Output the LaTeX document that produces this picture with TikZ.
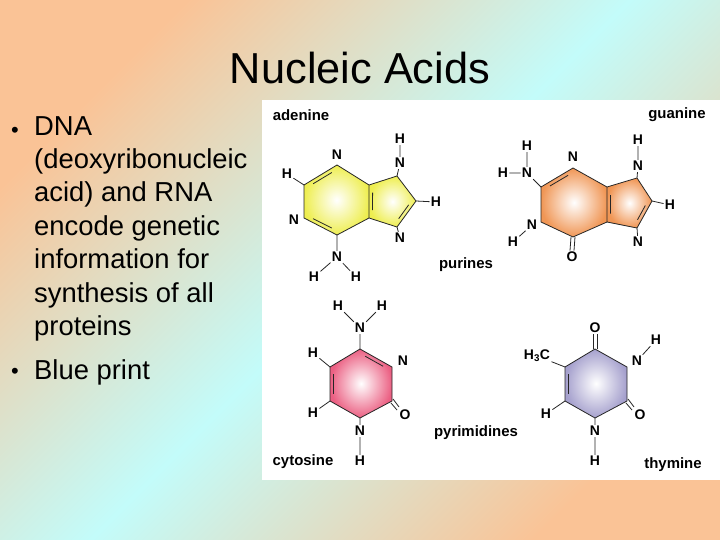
\documentclass[tikz,border=0pt]{standalone}
\usepackage{fontspec}
\setmainfont{Liberation Sans}
\usetikzlibrary{calc}
\definecolor{peach}{RGB}{250,195,150}
\definecolor{cyanbg}{RGB}{195,252,250}
\definecolor{adcol}{RGB}{238,238,80}
\definecolor{gucol}{RGB}{240,150,85}
\definecolor{cycol}{RGB}{235,95,130}
\definecolor{thcol}{RGB}{165,160,205}
\tikzset{
  atom/.style={font=\bfseries\fontsize{14}{14}\selectfont, inner sep=1.2pt},
  mol/.style={font=\bfseries\fontsize{15}{15}\selectfont, inner sep=0pt},
  bond/.style={line width=0.8pt, black!85},
  bullettext/.style={font=\fontsize{27.5}{33.6}\selectfont, anchor=north west, align=left, inner sep=0pt}
}
\newcommand{\dbl}[3]{\draw[bond] ($($(#1)!0.18!(#2)$)!4bp!(#3)$) -- ($($(#2)!0.18!(#1)$)!4bp!(#3)$);}
\begin{document}
\begin{tikzpicture}[x=1bp,y=-1bp]
\useasboundingbox (0,0) rectangle (720,540);
\shade[left color=peach, right color=peach, middle color=cyanbg, shading angle=45] (0,0) rectangle (720,540);
\fill[white] (262,100) rectangle (720,480);
\node[font=\fontsize{43.5}{44}\selectfont] (title) at (360,68) {Nucleic Acids};
\node[font=\fontsize{22}{24}\selectfont] (b1) at (15,132) {•};
\node[bullettext] (t1) at (34,116) {DNA\\(deoxyribonucleic\\acid) and RNA\\encode genetic\\information for\\synthesis of all\\proteins};
\node[font=\fontsize{22}{24}\selectfont] (b2) at (15,373) {•};
\node[bullettext, anchor=west] (t2) at (34,372) {Blue print};

% ---------- adenine
\coordinate (a1) at (337,165); \coordinate (a2) at (304,185); \coordinate (a3) at (304,218);
\coordinate (a4) at (337,235); \coordinate (a5) at (369,218); \coordinate (a6) at (369,185);
\coordinate (a7) at (397,176); \coordinate (a8) at (416,201); \coordinate (a9) at (397,227);
\coordinate (ac) at (337,201); \coordinate (ac5) at (390,201);
\shade[inner color=white, outer color=adcol] (a1)--(a2)--(a3)--(a4)--(a5)--(a6)--cycle;
\shade[inner color=white, outer color=adcol] (a6)--(a7)--(a8)--(a9)--(a5)--cycle;
\draw[bond] (a1)--(a2)--(a3)--(a4)--(a5)--(a6)--cycle (a6)--(a7)--(a8)--(a9)--(a5);
\dbl{a1}{a2}{ac} \dbl{a3}{a4}{ac} \dbl{a6}{a5}{ac5} \dbl{a8}{a9}{ac5}
\node[atom, fill=white] (aN1) at (337,155) {N};
\node[atom] (aH2) at (287,174) {H};
\node[atom, fill=white] (aN3) at (294,220) {N};
\node[atom] (aN7) at (400,163) {N};
\node[atom] (aH7) at (400,139) {H};
\node[atom] (aH8) at (436,202) {H};
\node[atom] (aN9) at (400,238) {N};
\node[atom] (aN6) at (337,257) {N};
\node[atom] (aH6a) at (314,277) {H};
\node[atom] (aH6b) at (356,277) {H};
\draw[bond] (a2)--(aH2) (a7)--(aN7) (aN7)--(aH7) (a8)--(aH8) (a9)--(aN9) (a4)--(aN6) (aN6)--(aH6a) (aN6)--(aH6b);
\node[mol] (adenine) at (301,115) {adenine};

% ---------- guanine
\coordinate (g1) at (573,168); \coordinate (g2) at (541,187); \coordinate (g3) at (541,222);
\coordinate (g4) at (573,237); \coordinate (g5) at (607,222); \coordinate (g6) at (607,187);
\coordinate (g7) at (637,178); \coordinate (g8) at (652,201); \coordinate (g9) at (637,228);
\coordinate (gc) at (574,204); \coordinate (gc5) at (627,204);
\shade[inner color=white, outer color=gucol] (g1)--(g2)--(g3)--(g4)--(g5)--(g6)--cycle;
\shade[inner color=white, outer color=gucol] (g6)--(g7)--(g8)--(g9)--(g5)--cycle;
\draw[bond] (g1)--(g2)--(g3)--(g4)--(g5)--(g6)--cycle (g6)--(g7)--(g8)--(g9)--(g5);
\dbl{g1}{g2}{gc} \dbl{g6}{g5}{gc5} \dbl{g8}{g9}{gc5}
\node[atom] (gN1) at (573,157) {N};
\node[atom] (gN2) at (527,173) {N};
\node[atom] (gH2a) at (527,146) {H};
\node[atom] (gH2b) at (503,173) {H};
\node[atom] (gN3) at (532,225) {N};
\node[atom] (gH3) at (513,242) {H};
\node[atom] (gO) at (572,257) {O};
\node[atom] (gN7) at (638,166) {N};
\node[atom] (gH7) at (638,140) {H};
\node[atom] (gH8) at (670,205) {H};
\node[atom] (gN9) at (638,242) {N};
\draw[bond] (g2)--(gN2) (gN2)--(gH2a) (gN2)--(gH2b) (gN3)--(gH3) (g7)--(gN7) (gN7)--(gH7) (g8)--(gH8) (g9)--(gN9);
\draw[bond] ([xshift=-2bp]g4)--([xshift=-2bp]gO.north) ([xshift=2bp]g4)--([xshift=2bp]gO.north);
\node[mol] (guanine) at (677,115) {guanine};
\node[mol] (purines) at (466,265) {purines};

% ---------- cytosine
\coordinate (c1) at (360,349); \coordinate (c2) at (392,367); \coordinate (c3) at (392,401);
\coordinate (c4) at (360,418); \coordinate (c5) at (330,401); \coordinate (c6) at (330,367);
\coordinate (cc) at (361,384);
\shade[inner color=white, outer color=cycol] (c1)--(c2)--(c3)--(c4)--(c5)--(c6)--cycle;
\draw[bond] (c1)--(c2)--(c3)--(c4)--(c5)--(c6)--cycle;
\dbl{c1}{c2}{cc} \dbl{c6}{c5}{cc}
\node[atom] (cN4) at (360,328) {N};
\node[atom] (cH4a) at (338,306) {H};
\node[atom] (cH4b) at (382,306) {H};
\node[atom] (cN3) at (403,361) {N};
\node[atom] (cO) at (405,415) {O};
\node[atom] (cN1) at (360,431) {N};
\node[atom] (cH1) at (360,461) {H};
\node[atom] (cH5) at (313,353) {H};
\node[atom] (cH6) at (313,413) {H};
\draw[bond] (c1)--(cN4) (cN4)--(cH4a) (cN4)--(cH4b) (c4)--(cN1) (cN1)--(cH1) (c6)--(cH5) (c5)--(cH6);
\draw[bond] ($(c3)+(1,-2)$)--($(cO)+(-6,-8)$) ($(c3)+(-1,2)$)--($(cO)+(-8,-5)$);
\node[mol] (cytosine) at (303,462) {cytosine};
\node[mol] (pyrimidines) at (476,433) {pyrimidines};

% ---------- thymine
\coordinate (t1) at (595,349); \coordinate (t2) at (627,367); \coordinate (t3) at (627,401);
\coordinate (t4) at (595,418); \coordinate (t5) at (565,401); \coordinate (t6) at (565,367);
\coordinate (tc) at (596,384);
\shade[inner color=white, outer color=thcol] (t1)--(t2)--(t3)--(t4)--(t5)--(t6)--cycle;
\draw[bond] (t1)--(t2)--(t3)--(t4)--(t5)--(t6)--cycle;
\dbl{t6}{t5}{tc}
\node[atom] (tO4) at (595,328) {O};
\node[atom] (tN3) at (637,361) {N};
\node[atom] (tH3) at (656,340) {H};
\node[atom] (tO2) at (640,415) {O};
\node[atom] (tN1) at (595,431) {N};
\node[atom] (tH1) at (595,461) {H};
\node[atom] (tMe) at (537,356) {H\textsubscript{3}C};
\node[atom] (tH6) at (546,414) {H};
\draw[bond] ([xshift=-2bp]t1)--([xshift=-2bp]tO4.south) ([xshift=2bp]t1)--([xshift=2bp]tO4.south);
\draw[bond] (tN3)--(tH3) (t4)--(tN1) (tN1)--(tH1) (t6)--(tMe) (t5)--(tH6);
\draw[bond] ($(t3)+(1,-2)$)--($(tO2)+(-6,-8)$) ($(t3)+(-1,2)$)--($(tO2)+(-8,-5)$);
\node[mol] (thymine) at (673,465) {thymine};
\end{tikzpicture}
\end{document}
